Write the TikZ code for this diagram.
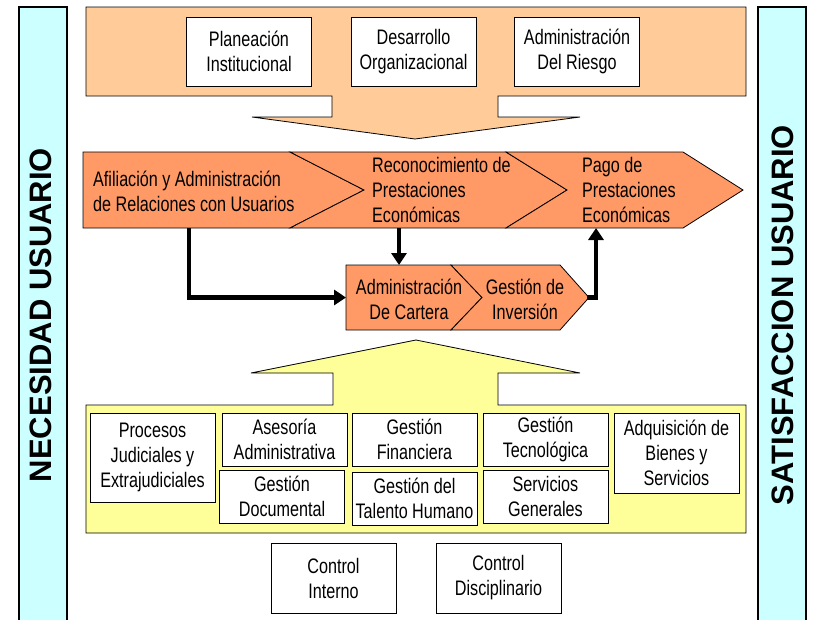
\documentclass[tikz,border=0pt]{standalone}
\usepackage{fontspec}
\setmainfont{Liberation Sans}[FakeStretch=0.77]
\newfontfamily\sidefont{Liberation Sans}
\usetikzlibrary{arrows.meta}
\definecolor{peach}{HTML}{FFCC99}
\definecolor{chev}{HTML}{FF9966}
\definecolor{lyellow}{HTML}{FFFF99}
\definecolor{lcyan}{HTML}{CCFFFF}
\begin{document}
\begin{tikzpicture}[x=1pt,y=-1pt,
  txt/.style={font=\fontsize{21}{25}\selectfont, inner sep=0pt},
  box/.style={txt, draw=black, line width=0.8pt, fill=white, align=center, minimum width=125pt},
  panel/.style={draw=black, line width=0.8pt},
  sidebar/.style={draw=black, line width=1.8pt, fill=lcyan},
  sidetxt/.style={font=\sidefont\bfseries\fontsize{31}{31}\selectfont, rotate=90, inner sep=0pt},
  flow/.style={line width=4.5pt, -{Triangle[length=12pt,width=15pt]}}]
\useasboundingbox (0,0) rectangle (814,619);
\fill[white] (0,0) rectangle (814,619);

% side bars
\draw[sidebar] (19,7) rectangle (67,630);
\draw[sidebar] (758,7) rectangle (806,630);
\node[sidetxt] (nec) at (41,315) {NECESIDAD USUARIO};
\node[sidetxt] (sat) at (783,315) {SATISFACCION USUARIO};

% top panel with down arrow
\draw[panel, fill=peach] (86,7) -- (746,7) -- (746,96) -- (498,96) -- (498,117) -- (580,117)
  -- (415,139) -- (252,117) -- (332,117) -- (332,96) -- (86,96) -- cycle;
\node[box, minimum height=69pt] (plan) at (249,51.5) {Planeación\\Institucional};
\node[box, minimum height=69pt] (desa) at (413.5,51.5) {Desarrollo\\Organizacional};
\node[box, minimum height=69pt] (ries) at (577,51.5) {Administración\\Del Riesgo};

% main chevrons
\draw[panel, fill=chev] (83,152) -- (290,152) -- (364,190) -- (290,228) -- (83,228) -- cycle;
\draw[panel, fill=chev] (290,152) -- (506,152) -- (567,190) -- (506,228) -- (290,228) -- (364,190) -- cycle;
\draw[panel, fill=chev] (506,152) -- (683,152) -- (743,190) -- (683,228) -- (506,228) -- (567,190) -- cycle;
\node[txt, anchor=west, align=left] (afil) at (93,191) {Afiliación y Administración\\de Relaciones con Usuarios};
\node[txt, anchor=west, align=left] (reco) at (372,190) {Reconocimiento de\\Prestaciones\\Económicas};
\node[txt, anchor=west, align=left] (pago) at (582,190) {Pago de\\Prestaciones\\Económicas};

% lower chevrons
\draw[panel, fill=chev] (346,265) -- (451,265) -- (482,297.5) -- (451,330) -- (346,330) -- cycle;
\draw[panel, fill=chev] (451,265) -- (560,265) -- (589,297.5) -- (560,330) -- (451,330) -- (482,297.5) -- cycle;
\node[txt, align=center] (cart) at (409,299) {Administración\\De Cartera};
\node[txt, align=center] (inve) at (525,299) {Gestión de\\Inversión};

% connector end points
\coordinate (afilB) at (189,228);
\coordinate (cartL) at (346,297.5);
\coordinate (recoB) at (399,228);
\coordinate (cartT) at (399,265);
\coordinate (inveR) at (587,297.5);
\coordinate (pagoB) at (596,228);
\draw[flow] (afilB) |- (cartL);
\draw[flow] (recoB) -- (cartT);
\draw[flow] (inveR) -| (pagoB);

% bottom panel with up arrow
\draw[panel, fill=lyellow] (86,533) -- (746,533) -- (746,405) -- (498,405) -- (498,373) -- (580,373)
  -- (416,340) -- (251,373) -- (333,373) -- (333,405) -- (86,405) -- cycle;
\node[box, minimum height=89pt] (proc) at (152.5,457.5) {Procesos\\Judiciales y\\Extrajudiciales};
\node[box, minimum height=53pt] (ases) at (284.5,439.5) {Asesoría\\Administrativa};
\node[box, minimum height=53pt] (gfin) at (414.5,439.5) {Gestión\\Financiera};
\node[box, minimum height=53pt] (gtec) at (545.5,439.5) {Gestión\\Tecnológica};
\node[box, minimum height=80pt] (adqu) at (676.5,453) {Adquisición de\\Bienes y\\Servicios};
\node[box, minimum height=53pt] (gdoc) at (282,496.5) {Gestión\\Documental};
\node[box, minimum height=53pt] (gtal) at (414.5,498.5) {Gestión del\\Talento Humano};
\node[box, minimum height=53pt] (sgen) at (545.5,496.5) {Servicios\\Generales};

% controls
\node[box, minimum height=70pt] (cint) at (333.5,578) {Control\\Interno};
\node[box, minimum height=70pt] (cdis) at (498.5,578) {Control\\Disciplinario};
\end{tikzpicture}
\end{document}
